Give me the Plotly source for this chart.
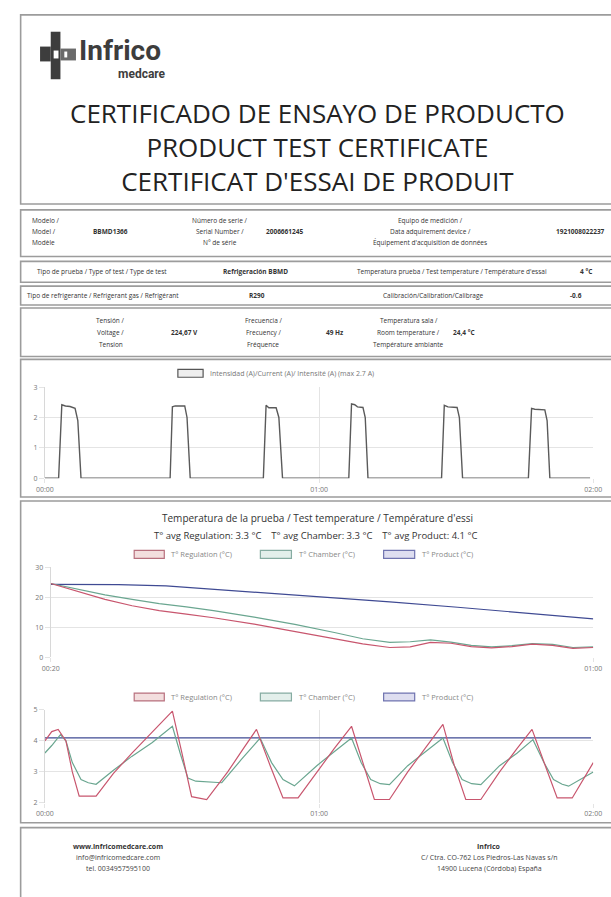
import plotly.graph_objects as go

W, H = 611, 897


def X(px):
    return px / W


def Y(py):
    return 1 - py / H


# ---------------- DATA ----------------
# Chart 1: current (A) vs time (minutes)
cur_t = [0, 3.0, 3.7, 4.5, 5.5, 6.6, 7.2, 7.9,
         27.4, 27.9, 28.5, 30.0, 30.6, 31.1, 31.8,
         47.8, 48.4, 49.0, 50.6, 51.2, 52.0,
         66.5, 67.1, 67.8, 68.4, 69.6, 70.1, 70.7,
         86.8, 87.4, 88.2, 90.2, 90.7, 91.4,
         105.8, 106.5, 107.2, 109.4, 109.9, 110.5,
         119.3]
cur_v = [0, 0, 2.42, 2.38, 2.36, 2.3, 1.9, 0,
         0, 2.35, 2.38, 2.38, 2.38, 2.0, 0,
         0, 2.4, 2.32, 2.32, 2.0, 0,
         0, 2.45, 2.42, 2.35, 2.33, 2.0, 0,
         0, 2.4, 2.35, 2.33, 2.0, 0,
         0, 2.3, 2.27, 2.25, 1.9, 0,
         0]
cur_ticks = [0, 60, 120]
cur_ticktext = ["00:00", "01:00", "02:00"]

# Chart 2: cool-down temperatures (°C) vs time (minutes)
cd_t = [20, 22, 24, 26, 28, 30, 32, 35, 38, 41, 43, 45, 46.5, 48, 49.5, 51, 52.5, 54, 55.5, 57, 58.5, 60]
cd_reg = [24.6, 22.0, 19.3, 17.2, 15.6, 14.4, 13.2, 11.1, 8.6, 6.0, 4.5, 3.3, 3.5, 5.0, 4.7, 3.6, 3.2, 3.6, 4.4, 4.0, 3.0, 3.3]
cd_cha = [24.6, 22.6, 20.8, 19.3, 17.9, 16.8, 15.6, 13.4, 11.0, 8.2, 6.2, 5.0, 5.2, 5.8, 5.1, 4.0, 3.5, 3.9, 4.6, 4.3, 3.3, 3.5]
cd_prod_t = [20, 25, 28.5, 31, 35, 40, 45, 50, 55, 60]
cd_prod = [24.3, 24.2, 23.8, 23.0, 21.8, 20.2, 18.5, 16.7, 14.8, 12.8]
cd_ticks = [20, 60]
cd_ticktext = ["00:20", "01:00"]

# Chart 3: steady-state temperatures (°C) vs time (minutes)
reg_t = [0, 1.5, 2.9, 4.6, 6.0, 7.5, 11.2, 15, 19, 23.5, 27.9, 30.0, 32.1, 35.4, 40, 43.2, 46.3, 49.3,
         52.1, 55.4, 59.5, 63.3, 67.1, 69.7, 72.1, 75.4, 79.4, 83.4, 87.1, 89.6, 92.1, 95.4, 99.5,
         103.3, 106.6, 109.5, 112.1, 115.4, 118, 120]
reg_v = [4.0, 4.3, 4.37, 4.0, 3.0, 2.22, 2.22, 2.95, 3.6, 4.3, 4.96, 3.6, 2.2, 2.11, 3.0, 3.7, 4.37, 3.2,
         2.16, 2.16, 3.0, 3.75, 4.47, 3.2, 2.11, 2.11, 3.0, 3.8, 4.53, 3.2, 2.11, 2.11, 3.0,
         3.75, 4.37, 3.2, 2.16, 2.16, 2.8, 3.3]
cha_t = [0, 1.5, 3.4, 4.6, 6.0, 7.9, 9.5, 11.2, 15, 19, 23.5, 27.9, 29.6, 31.3, 33, 38.7, 43, 47.1, 49.6,
         52.1, 54.6, 59.5, 63.3, 67.1, 69.2, 71.3, 73.4, 75.4, 79.4, 83.4, 87.1, 89.2, 91.3, 93.4,
         95.4, 99.5, 103.3, 106.8, 109.2, 111.3, 113.2, 114.6, 117.5, 120]
cha_v = [3.61, 3.85, 4.2, 4.0, 3.3, 2.75, 2.65, 2.6, 3.05, 3.5, 3.95, 4.47, 3.6, 2.8, 2.7, 2.65, 3.4, 4.09,
         3.3, 2.75, 2.55, 3.2, 3.65, 4.09, 3.3, 2.75, 2.62, 2.59, 3.2, 3.65, 4.09, 3.3, 2.75, 2.62,
         2.59, 3.2, 3.6, 4.04, 3.3, 2.75, 2.6, 2.54, 2.8, 3.0]
prod_t = [0, 20, 40, 60, 80, 100, 119.5]
prod_v = [4.1, 4.1, 4.1, 4.1, 4.1, 4.1, 4.1]
ss_ticks = [0, 60, 120]
ss_ticktext = ["00:00", "01:00", "02:00"]

# ---------------- STYLE ----------------
RED = "#c8566e"
GREEN = "#6aa690"
BLUE = "#3f4a93"
GRID = "#e4e4e4"
TICKC = "#777"
FONT = "Open Sans"

fig = go.Figure()

fig.add_trace(go.Scatter(x=cur_t, y=cur_v, mode="lines", line=dict(color="#5a5a5a", width=1.4),
                         xaxis="x", yaxis="y", hoverinfo="skip", showlegend=False))

fig.add_trace(go.Scatter(x=cd_prod_t, y=cd_prod, mode="lines", line=dict(color=BLUE, width=1.2),
                         xaxis="x2", yaxis="y2", hoverinfo="skip", showlegend=False))
fig.add_trace(go.Scatter(x=cd_t, y=cd_cha, mode="lines", line=dict(color=GREEN, width=1.2),
                         xaxis="x2", yaxis="y2", hoverinfo="skip", showlegend=False))
fig.add_trace(go.Scatter(x=cd_t, y=cd_reg, mode="lines", line=dict(color=RED, width=1.2),
                         xaxis="x2", yaxis="y2", hoverinfo="skip", showlegend=False))

fig.add_trace(go.Scatter(x=prod_t, y=prod_v, mode="lines", line=dict(color=BLUE, width=1.3),
                         xaxis="x3", yaxis="y3", hoverinfo="skip", showlegend=False))
fig.add_trace(go.Scatter(x=cha_t, y=cha_v, mode="lines", line=dict(color=GREEN, width=1.2),
                         xaxis="x3", yaxis="y3", hoverinfo="skip", showlegend=False))
fig.add_trace(go.Scatter(x=reg_t, y=reg_v, mode="lines", line=dict(color=RED, width=1.2),
                         xaxis="x3", yaxis="y3", hoverinfo="skip", showlegend=False))


def xax(dom, rng, tv, tt, anchor):
    return dict(domain=[X(dom[0]), X(dom[1])], range=rng, tickvals=tv, ticktext=tt, anchor=anchor,
                showgrid=True, gridcolor=GRID, gridwidth=1, zeroline=False, showline=False,
                ticks="outside", ticklen=4, tickcolor=GRID,
                tickfont=dict(family=FONT, size=7, color=TICKC), fixedrange=True)


def yax(dom, rng, tv, anchor):
    return dict(domain=[Y(dom[1]), Y(dom[0])], range=rng, tickvals=tv, anchor=anchor,
                showgrid=True, gridcolor=GRID, gridwidth=1, zeroline=False, showline=True,
                linecolor="#d8d8d8", linewidth=1,
                ticks="outside", ticklen=5, tickcolor=GRID,
                tickfont=dict(family=FONT, size=7, color=TICKC), fixedrange=True)


shapes = []
ann = []


def box(y0, y1, x0=12, x1=640):
    shapes.append(dict(type="rect", xref="paper", yref="paper", x0=X(x0), x1=X(x1), y0=Y(y1), y1=Y(y0),
                       line=dict(color="#9c9c9c", width=1.6), fillcolor="rgba(0,0,0,0)", layer="below"))


def text(s, x, y, size=6.5, color="#333", anchor="center", bold=False, family=FONT):
    if bold:
        s = "<b>" + s + "</b>"
    ann.append(dict(text=s, x=X(x), y=Y(y), xref="paper", yref="paper", xanchor=anchor, yanchor="middle",
                    showarrow=False, font=dict(family=family, size=size, color=color)))


def swatch(x0, x1, yc, fill, line):
    shapes.append(dict(type="rect", xref="paper", yref="paper", x0=X(x0), x1=X(x1), y0=Y(yc + 4), y1=Y(yc - 4),
                       line=dict(color=line, width=1.2), fillcolor=fill))


# boxes
box(10, 201)
box(207, 254)
box(259, 280)
box(284, 303)
box(306, 355)
box(358, 497)
box(501, 826)
box(831, 910)

# logo
LOGO = "#3d3d3d"
shapes.append(dict(type="rect", xref="paper", yref="paper", x0=X(43), x1=X(53), y0=Y(75), y1=Y(27),
                   line=dict(width=0), fillcolor=LOGO))
shapes.append(dict(type="rect", xref="paper", yref="paper", x0=X(32), x1=X(43), y0=Y(57), y1=Y(42),
                   line=dict(width=0), fillcolor=LOGO))
shapes.append(dict(type="rect", xref="paper", yref="paper", x0=X(53), x1=X(69), y0=Y(56), y1=Y(44),
                   line=dict(width=0), fillcolor="#6a6a6a"))
shapes.append(dict(type="rect", xref="paper", yref="paper", x0=X(46), x1=X(51), y0=Y(54), y1=Y(46),
                   line=dict(width=0), fillcolor="#ffffff"))
shapes.append(dict(type="rect", xref="paper", yref="paper", x0=X(57), x1=X(60), y0=Y(53), y1=Y(47),
                   line=dict(width=0), fillcolor="#ffffff"))
text("Infrico", 70, 46, size=28, color=LOGO, anchor="left", bold=True, family="Roboto")
text("medcare", 164, 70, size=12, color=LOGO, anchor="right", bold=True, family="Roboto")

# titles (one block of three lines)
text("CERTIFICADO DE ENSAYO DE PRODUCTO<br>PRODUCT TEST CERTIFICATE<br>CERTIFICAT D'ESSAI DE PRODUIT",
     318, 143, size=26, color="#222")

# info box 1
r1, r2, r3 = 218, 229, 240
text("Modelo /", 22, r1, anchor="left")
text("Model /", 22, r2, anchor="left")
text("Modèle", 22, r3, anchor="left")
text("BBMD1366", 85, r2, anchor="left", bold=True)
text("Número de serie /", 217, r1)
text("Serial Number /", 217, r2)
text("N° de série", 217, r3)
text("2006661245", 263, r2, anchor="left", bold=True)
text("Equipo de medición /", 434, r1)
text("Data adquirement device /", 434, r2)
text("Équipement d'acquisition de données", 434, r3)
text("1921008022237", 562, r2, anchor="left", bold=True)

# info box 2
text("Tipo de prueba / Type of test / Type de test", 96, 269.5)
text("Refrigeración BBMD", 218, 269.5, anchor="left", bold=True)
text("Temperatura prueba / Test temperature / Température d'essai", 456, 269.5)
text("4 °C", 594, 269.5, bold=True)

# info box 3
text("Tipo de refrigerante / Refrigerant gas / Refrigérant", 97, 293.5)
text("R290", 256, 293.5, bold=True)
text("Calibración/Calibration/Calibrage", 437, 293.5)
text("-0.6", 584, 293.5, bold=True)

# info box 4
q1, q2, q3 = 319, 331, 343
text("Tensión /", 105, q1)
text("Voltage /", 105, q2)
text("Tension", 105, q3)
text("224,67 V", 165, q2, anchor="left", bold=True)
text("Frecuencia /", 262, q1)
text("Frecuency /", 262, q2)
text("Fréquence", 262, q3)
text("49 Hz", 325, q2, anchor="left", bold=True)
text("Temperatura sala /", 412, q1)
text("Room temperature /", 412, q2)
text("Température ambiante", 412, q3)
text("24,4 °C", 455, q2, anchor="left", bold=True)

# chart 1 legend
swatch(174, 200, 372, "#eeeeee", "#555555")
text("Intensidad (A)/Current (A)/ Intensité (A) (max 2.7 A)", 205, 372, size=7, color="#777", anchor="left")

# chart 2 titles & legends
text("Temperatura de la prueba / Test temperature / Température d'essi", 318, 518, size=10, color="#333")
text("T° avg Regulation: 3.3 °C&nbsp;&nbsp;&nbsp;&nbsp;T° avg Chamber: 3.3 °C&nbsp;&nbsp;&nbsp;&nbsp;T° avg Product: 4.1 °C",
     316, 536, size=9.5, color="#333")


def temp_legend(yc):
    swatch(129, 160, yc, "#f3dede", "#b8707e")
    text("T° Regulation (°C)", 165, yc, size=7.5, color="#888", anchor="left")
    swatch(259, 291, yc, "#e3efeb", "#86aca2")
    text("T° Chamber (°C)", 297, yc, size=7.5, color="#888", anchor="left")
    swatch(386, 418, yc, "#dedef0", "#7074b0")
    text("T° Product (°C)", 423, yc, size=7.5, color="#888", anchor="left")


temp_legend(555)
temp_legend(699)

# footer
text("www.infricomedcare.com", 112, 850, size=7, color="#333", bold=True)
text("info@infricomedcare.com", 112, 861, size=7, color="#444")
text("tel. 0034957595100", 112, 872, size=7, color="#444")
text("Infrico", 495, 850, size=7, color="#333", bold=True)
text("C/ Ctra. CO-762 Los Piedros-Las Navas s/n", 495, 861, size=7, color="#444")
text("14900 Lucena (Córdoba) España", 495, 872, size=7, color="#444")

fig.update_layout(
    width=W, height=H, margin=dict(l=0, r=0, t=0, b=0),
    paper_bgcolor="white", plot_bgcolor="white", showlegend=False,
    xaxis=xax((37, 602), [0, 120], cur_ticks, cur_ticktext, "y"),
    yaxis=yax((386, 478), [0, 3], [0, 1, 2, 3], "x"),
    xaxis2=xax((43, 602), [20, 60], cd_ticks, cd_ticktext, "y2"),
    yaxis2=yax((568, 659), [0, 30], [0, 10, 20, 30], "x2"),
    xaxis3=xax((37, 602), [0, 120], ss_ticks, ss_ticktext, "y3"),
    yaxis3=yax((712, 806), [2, 5], [2, 3, 4, 5], "x3"),
    shapes=shapes, annotations=ann,
)

fig.write_html("out.html", config={"displayModeBar": False},
               post_script="document.body.style.margin='0px';document.body.style.overflow='hidden';")
